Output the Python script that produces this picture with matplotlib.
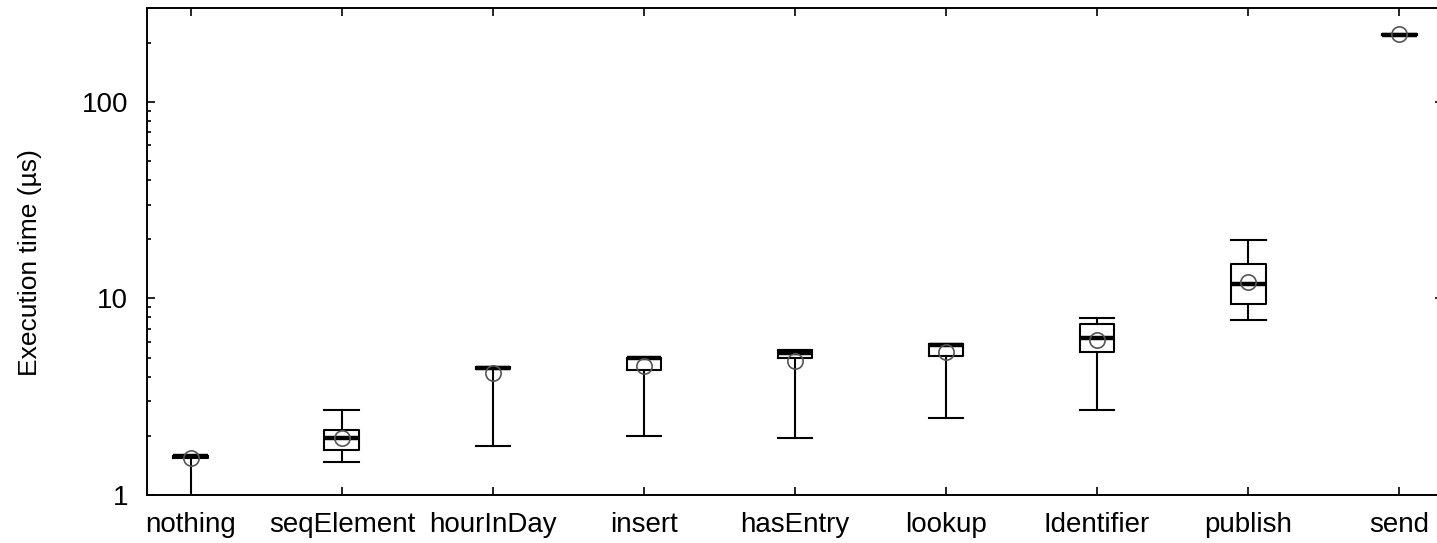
import matplotlib
matplotlib.use("Agg")
import matplotlib.pyplot as plt
from matplotlib.ticker import LogLocator, NullFormatter, FixedLocator

plt.rcParams['font.family'] = ['Liberation Sans', 'DejaVu Sans']

categories = ["nothing", "seqElement", "hourInDay", "insert", "hasEntry",
              "lookup", "Identifier", "publish", "send"]
whislo = [0.95, 1.48, 1.78, 2.00, 1.96, 2.47, 2.71, 7.77, 218]
q1     = [1.55, 1.69, 4.35, 4.33, 5.00, 5.10, 5.36, 9.38, 218]
med    = [1.57, 1.94, 4.43, 4.98, 5.28, 5.80, 6.27, 11.81, 219]
q3     = [1.58, 2.14, 4.50, 5.00, 5.47, 5.85, 7.42, 14.98, 220]
whishi = [1.58, 2.71, 4.50, 5.00, 5.47, 5.85, 7.99, 19.90, 220]
means  = [1.54, 1.95, 4.18, 4.55, 4.81, 5.36, 6.15, 12.09, 222]

stats = []
for i, c in enumerate(categories):
    stats.append(dict(label=c, whislo=whislo[i], q1=q1[i], med=med[i],
                      q3=q3[i], whishi=whishi[i], mean=means[i], fliers=[]))

fig = plt.figure(figsize=(14.37, 5.43), dpi=100)
ax = fig.add_axes([147/1437, 48/543, (1443-147)/1437, (495-8)/543])

pos = list(range(1, len(categories) + 1))
ax.bxp(stats, positions=pos, widths=0.23, capwidths=0.23, showmeans=True,
       showfliers=False,
       boxprops=dict(color='black', linewidth=1.5),
       whiskerprops=dict(color='black', linewidth=1.5),
       capprops=dict(color='black', linewidth=1.5),
       medianprops=dict(color='black', linewidth=3.2),
       meanprops=dict(marker='o', markerfacecolor='none', markeredgecolor='#555555',
                      markersize=11, markeredgewidth=1.2))

ax.set_yscale('log')
ax.set_ylim(1, 300)
ax.set_xlim(0.71, 9.29)
ax.yaxis.set_major_locator(FixedLocator([1, 10, 100]))
ax.set_yticklabels(["1", "10", "100"])
ax.yaxis.set_minor_locator(LogLocator(base=10, subs=range(2, 10)))
ax.yaxis.set_minor_formatter(NullFormatter())
ax.set_xticks(pos)
ax.set_xticklabels(categories)

ax.tick_params(axis='both', which='both', direction='in', top=True, right=True,
               labelsize=20, colors='black', width=1.2)
ax.tick_params(axis='both', which='major', length=5.8)
ax.tick_params(axis='y', which='minor', length=3)
ax.tick_params(axis='x', pad=12)
ax.tick_params(axis='y', pad=13.5)
for s in ax.spines.values():
    s.set_linewidth(1.4)

ax.set_ylabel("Execution time (\u00b5s)", fontsize=19)
ax.yaxis.set_label_coords(-0.081, 0.478)

fig.savefig("out.png", dpi=100)
